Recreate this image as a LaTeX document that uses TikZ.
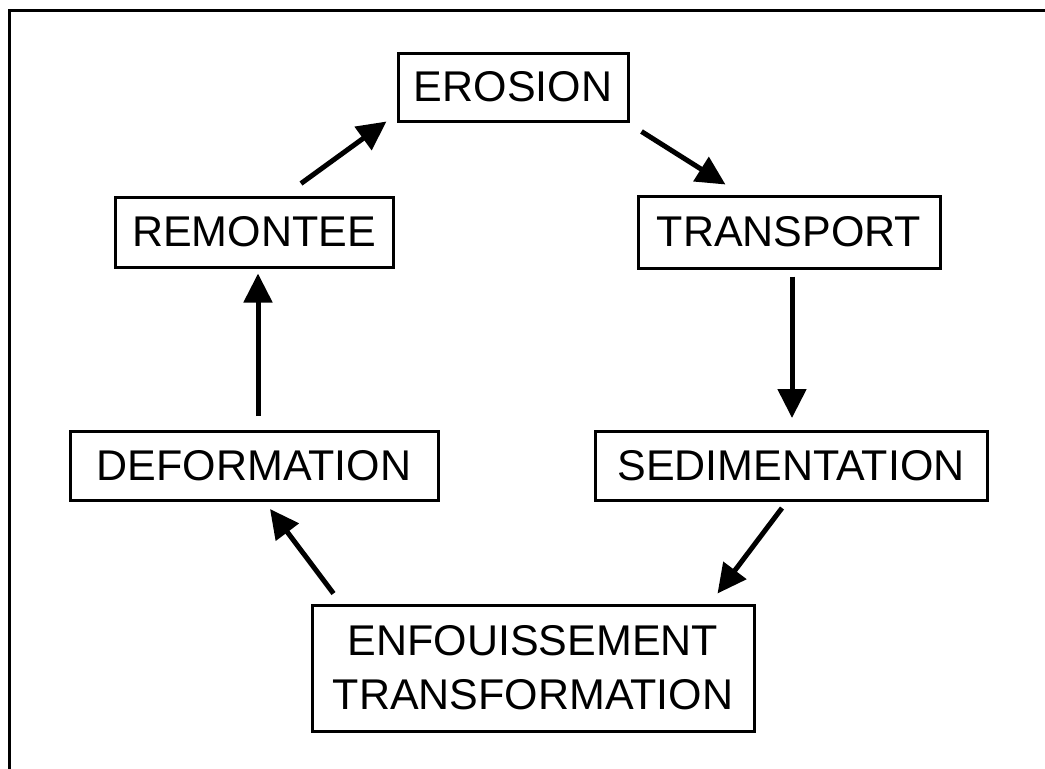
\documentclass[tikz,border=0pt]{standalone}
\usepackage{fontspec}
\setmainfont{Liberation Sans}
\usetikzlibrary{arrows.meta,calc}
\begin{document}
\begin{tikzpicture}[x=1pt,y=-1pt,
  box/.style={draw=black,line width=3pt,rectangle,inner sep=0pt,align=center,
    font=\fontsize{43}{54}\selectfont},
  arr/.style={line width=5pt,-{Triangle[length=29pt,width=28pt]}}]
\useasboundingbox (0,0) rectangle (1045,769);
\draw[line width=3pt] (1045,10) -- (9,10) -- (9,769);
\node[box,minimum width=230pt,minimum height=68pt] (ero) at (513,87) {EROSION};
\node[box,minimum width=278pt,minimum height=70pt] (rem) at (254,232) {REMONTEE};
\node[box,minimum width=302pt,minimum height=72pt] (tra) at (789,232) {TRANSPORT};
\node[box,minimum width=368pt,minimum height=69pt] (def) at (254,466) {DEFORMATION};
\node[box,minimum width=392pt,minimum height=69pt] (sed) at (791,466) {SEDIMENTATION};
\node[box,minimum width=442pt,minimum height=126pt] (enf) at (533,668) {ENFOUISSEMENT\\TRANSFORMATION};
\draw[arr] ($(rem.north)+(47,-12)$) -- ($(ero.south west)+(-10,-1)$);
\draw[arr] ($(ero.south east)+(12,9)$) -- ($(tra.north west)+(89,-10)$);
\draw[arr] ($(tra.south)+(3,7)$) -- ($(sed.north)+(1,-12)$);
\draw[arr] ($(sed.south)+(-9,6)$) -- ($(enf.north east)+(-38,-10)$);
\draw[arr] ($(enf.north west)+(23,-10)$) -- ($(def.south)+(16,7)$);
\draw[arr] ($(def.north)+(4,-14)$) -- ($(rem.south)+(4,5)$);
\end{tikzpicture}
\end{document}
